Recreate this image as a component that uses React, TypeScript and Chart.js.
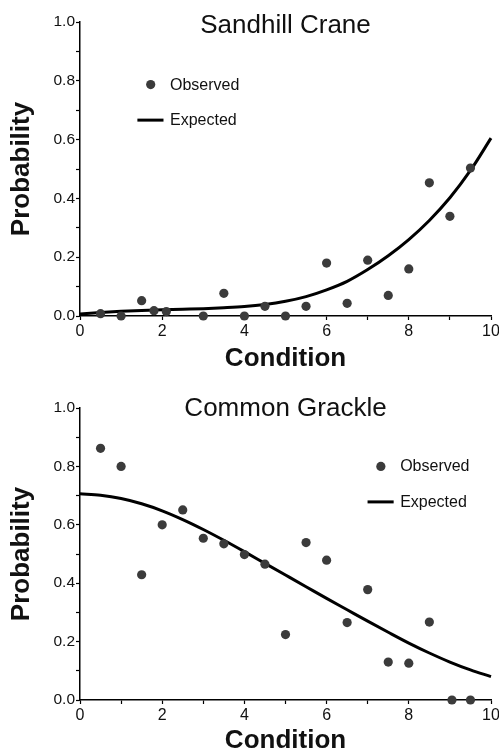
import React, { useEffect, useRef } from "react";
import { Chart, registerables } from "chart.js";

Chart.register(...registerables);

// ---------- data ----------
const conditionTickLabels = [0, 2, 4, 6, 8, 10];
const probabilityTickLabels = [0, 0.2, 0.4, 0.6, 0.8, 1.0];

const craneObservedX = [0.5, 1.0, 1.5, 1.8, 2.1, 3.0, 3.5, 4.0, 4.5, 5.0, 5.5, 6.0, 6.5, 7.0, 7.5, 8.0, 8.5, 9.0, 9.5];
const craneObservedY = [0.008, 0.0, 0.052, 0.018, 0.015, 0.0, 0.077, 0.0, 0.033, 0.0, 0.033, 0.18, 0.043, 0.19, 0.07, 0.16, 0.453, 0.339, 0.503];

const craneExpectedX = [0, 0.5, 1, 1.5, 2, 2.5, 3, 3.5, 4, 4.5, 5, 5.5, 6, 6.5, 7, 7.5, 8, 8.5, 9, 9.5, 10];
const craneExpectedY = [0.007, 0.012, 0.016, 0.019, 0.021, 0.023, 0.025, 0.028, 0.032, 0.039, 0.05, 0.066, 0.089, 0.118, 0.158, 0.205, 0.26, 0.325, 0.402, 0.495, 0.605];

const grackleObservedX = [0.5, 1.0, 1.5, 2.0, 2.5, 3.0, 3.5, 4.0, 4.5, 5.0, 5.5, 6.0, 6.5, 7.0, 7.5, 8.0, 8.5, 9.05, 9.5];
const grackleObservedY = [0.862, 0.8, 0.429, 0.6, 0.651, 0.554, 0.535, 0.498, 0.465, 0.224, 0.539, 0.479, 0.265, 0.378, 0.13, 0.126, 0.267, 0.0, 0.0];

const grackleExpectedX = [0, 0.5, 1, 1.5, 2, 2.5, 3, 3.5, 4, 4.5, 5, 5.5, 6, 6.5, 7, 7.5, 8, 8.5, 9, 9.5, 10];
const grackleExpectedY = [0.706, 0.701, 0.69, 0.672, 0.648, 0.618, 0.584, 0.547, 0.508, 0.468, 0.428, 0.388, 0.348, 0.309, 0.27, 0.232, 0.195, 0.161, 0.13, 0.103, 0.08];

const seriesNames = ["Observed", "Expected"];

// ---------- styling / layout ----------
const FONT = "'Liberation Sans', Arial, Helvetica, sans-serif";
const TEXT = "#111111";
const DOT = "#3b3b3b";

type PanelCfg = {
  title: string;
  obsX: number[];
  obsY: number[];
  expX: number[];
  expY: number[];
  padTop: number;
  xAxisHeight: number;
  xTitlePad: number;
  titleY: number;
  legendX: number;
  legendY: number;
};

const panels: PanelCfg[] = [
  {
    title: "Sandhill Crane",
    obsX: craneObservedX,
    obsY: craneObservedY,
    expX: craneExpectedX,
    expY: craneExpectedY,
    padTop: 22,
    xAxisHeight: 61,
    xTitlePad: 5,
    titleY: 32.5,
    legendX: 1.72,
    legendY: 0.787,
  },
  {
    title: "Common Grackle",
    obsX: grackleObservedX,
    obsY: grackleObservedY,
    expX: grackleExpectedX,
    expY: grackleExpectedY,
    padTop: 31,
    xAxisHeight: 54,
    xTitlePad: 0,
    titleY: 39,
    legendX: 7.32,
    legendY: 0.8,
  },
];

const panelTextPlugin = {
  id: "panelText",
  afterDatasetsDraw(chart: any, _args: any, opts: any) {
    const { ctx, chartArea, scales } = chart;
    ctx.save();
    // title
    ctx.fillStyle = TEXT;
    ctx.font = `26px ${FONT}`;
    ctx.textAlign = "center";
    ctx.textBaseline = "alphabetic";
    ctx.fillText(opts.title, (chartArea.left + chartArea.right) / 2, opts.titleY);

    // legend
    const cx = scales.x.getPixelForValue(opts.legendX);
    const cy = scales.y.getPixelForValue(opts.legendY);
    const rowGap = 35.5;
    ctx.font = `16px ${FONT}`;
    ctx.textAlign = "left";
    ctx.textBaseline = "middle";

    ctx.beginPath();
    ctx.arc(cx, cy, 4.6, 0, Math.PI * 2);
    ctx.fillStyle = DOT;
    ctx.fill();
    ctx.fillStyle = TEXT;
    ctx.fillText(seriesNames[0], cx + 19.3, cy + 0.5);

    ctx.beginPath();
    ctx.moveTo(cx - 13.3, cy + rowGap);
    ctx.lineTo(cx + 12.8, cy + rowGap);
    ctx.strokeStyle = "#000";
    ctx.lineWidth = 3;
    ctx.stroke();
    ctx.fillText(seriesNames[1], cx + 19.3, cy + rowGap + 0.5);
    ctx.restore();
  },
};

function buildConfig(p: PanelCfg): any {
  return {
    type: "scatter",
    data: {
      datasets: [
        {
          type: "line",
          label: seriesNames[1],
          data: p.expX.map((x, i) => ({ x, y: p.expY[i] })),
          borderColor: "#000",
          borderWidth: 3,
          pointRadius: 0,
          fill: false,
          cubicInterpolationMode: "monotone",
          clip: false,
          order: 2,
        },
        {
          type: "scatter",
          label: seriesNames[0],
          data: p.obsX.map((x, i) => ({ x, y: p.obsY[i] })),
          backgroundColor: DOT,
          borderWidth: 0,
          pointRadius: 4.6,
          clip: false,
          order: 1,
        },
      ],
    },
    options: {
      animation: false,
      responsive: false,
      devicePixelRatio: 1,
      layout: { padding: { top: p.padTop, left: 0, right: 0, bottom: 0 } },
      plugins: {
        legend: { display: false },
        tooltip: { enabled: false },
        title: { display: false },
        panelText: { title: p.title, titleY: p.titleY, legendX: p.legendX, legendY: p.legendY },
      },
      scales: {
        x: {
          type: "linear",
          min: 0,
          max: 10,
          afterFit(scale: any) {
            scale.height = p.xAxisHeight;
            scale.paddingRight = 8;
            scale.paddingLeft = 0;
          },
          border: { display: true, color: "#000", width: 1.5 },
          grid: {
            display: true,
            drawOnChartArea: false,
            drawTicks: true,
            tickLength: 4,
            tickColor: "#000",
            tickWidth: 1.2,
          },
          ticks: {
            stepSize: 1,
            autoSkip: false,
            maxRotation: 0,
            padding: 2,
            color: TEXT,
            font: { family: FONT, size: 16 },
            callback: (v: number) => {
              const r = Math.round(v);
              return conditionTickLabels.includes(r) && Math.abs(v - r) < 1e-6 ? String(r) : "";
            },
          },
          title: {
            display: true,
            text: "Condition",
            color: TEXT,
            font: { family: FONT, size: 26, weight: "bold", lineHeight: 1 },
            padding: { top: 0, bottom: p.xTitlePad },
          },
        },
        y: {
          type: "linear",
          min: 0,
          max: 1,
          afterFit(scale: any) {
            scale.width = 80;
          },
          border: { display: true, color: "#000", width: 1.5 },
          grid: {
            display: true,
            drawOnChartArea: false,
            drawTicks: true,
            tickLength: 4,
            tickColor: "#000",
            tickWidth: 1.2,
          },
          ticks: {
            stepSize: 0.1,
            autoSkip: false,
            padding: 1,
            color: TEXT,
            font: { family: FONT, size: 15.5 },
            callback: (v: number) => {
              const hit = probabilityTickLabels.find((t) => Math.abs(t - v) < 1e-6);
              return hit !== undefined ? hit.toFixed(1) : "";
            },
          },
          title: {
            display: true,
            text: "Probability",
            color: TEXT,
            font: { family: FONT, size: 26, weight: "bold", lineHeight: 1 },
            padding: { top: 9, bottom: 0 },
          },
        },
      },
    },
    plugins: [panelTextPlugin],
  };
}

function Panel({ cfg }: { cfg: PanelCfg }) {
  const ref = useRef<HTMLCanvasElement>(null);
  useEffect(() => {
    if (!ref.current) return;
    const chart = new Chart(ref.current, buildConfig(cfg));
    return () => chart.destroy();
  }, [cfg]);
  return (
    <canvas
      ref={ref}
      width={499}
      height={377}
      style={{ display: "block", width: 499, height: 377 }}
    />
  );
}

export default function App() {
  return (
    <div
      style={{
        position: "absolute",
        left: 0,
        top: 0,
        width: 499,
        height: 754,
        background: "#fff",
      }}
    >
      {panels.map((p) => (
        <Panel key={p.title} cfg={p} />
      ))}
    </div>
  );
}
